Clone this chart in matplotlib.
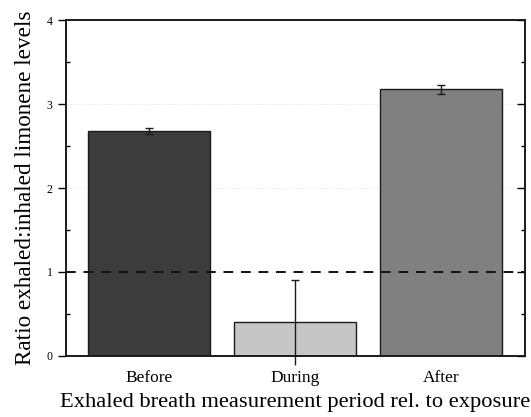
import numpy as np
import matplotlib
matplotlib.use("Agg")
import matplotlib.pyplot as plt
from matplotlib.ticker import MultipleLocator

plt.rcParams["font.family"] = ["Liberation Serif", "DejaVu Serif"]

periods = ["Before", "During", "After"]
ratio = [2.68, 0.40, 3.175]
ratio_err = [0.04, 0.51, 0.05]
bar_colors = ["#3c3c3c", "#c6c6c6", "#808080"]
reference_level = 1.0

fig = plt.figure(figsize=(5.31, 4.17), dpi=100)
ax = fig.add_axes([0.1243, 0.1463, 0.8644, 0.8057])

x = np.arange(len(periods))
ax.bar(x, ratio, width=0.836, color=bar_colors, edgecolor="#1a1a1a", linewidth=1.0, zorder=2)

# stable periods: small symmetric bars with caps
for i in (0, 2):
    ax.errorbar(x[i], ratio[i], yerr=ratio_err[i], fmt="none", ecolor="#1a1a1a",
                elinewidth=1.0, capsize=3, capthick=1.0, zorder=3)
# during exposure: the lower whisker runs below the axis with no cap
eb = ax.errorbar(x[1], ratio[1], yerr=ratio_err[1], fmt="none", ecolor="#1a1a1a",
                 elinewidth=1.0, capsize=3, capthick=1.0, zorder=3)
eb[2][0].set_clip_on(False)
for cap in eb[1]:
    cap.set_clip_on(False)
eb[1][0].set_visible(False)

ax.axhline(reference_level, color="#111111", linestyle=(0, (5, 4)), linewidth=1.4, zorder=4)

ax.set_xlim(-0.568, 2.575)
ax.set_ylim(0, 4)
ax.set_xticks(x)
ax.set_xticklabels(periods, fontsize=12.5)
ax.tick_params(axis="x", length=0, pad=10)
ax.yaxis.set_major_locator(MultipleLocator(1))
ax.yaxis.set_minor_locator(MultipleLocator(0.5))
ax.tick_params(axis="y", which="major", direction="out", length=6, width=1.0, labelsize=8.5)
ax.tick_params(axis="y", which="minor", direction="in", length=3, width=1.0)
ax.grid(axis="y", which="major", color="#dddddd", linestyle=":", linewidth=0.6, zorder=0)
ax.set_axisbelow(True)

# right-hand ticks point inward
ax2 = ax.twinx()
ax2.set_ylim(0, 4)
ax2.yaxis.set_major_locator(MultipleLocator(1))
ax2.yaxis.set_minor_locator(MultipleLocator(0.5))
ax2.tick_params(axis="y", which="major", direction="in", length=6, width=1.0, labelright=False)
ax2.tick_params(axis="y", which="minor", direction="in", length=3, width=1.0)

for a in (ax, ax2):
    for s in a.spines.values():
        s.set_linewidth(1.2)
        s.set_color("#1a1a1a")

ax.set_ylabel("Ratio exhaled:inhaled limonene levels", fontsize=16.7, labelpad=8)
ax.set_xlabel("Exhaled breath measurement period rel. to exposure", fontsize=16.2, labelpad=5)

fig.savefig("out.png", dpi=100)
